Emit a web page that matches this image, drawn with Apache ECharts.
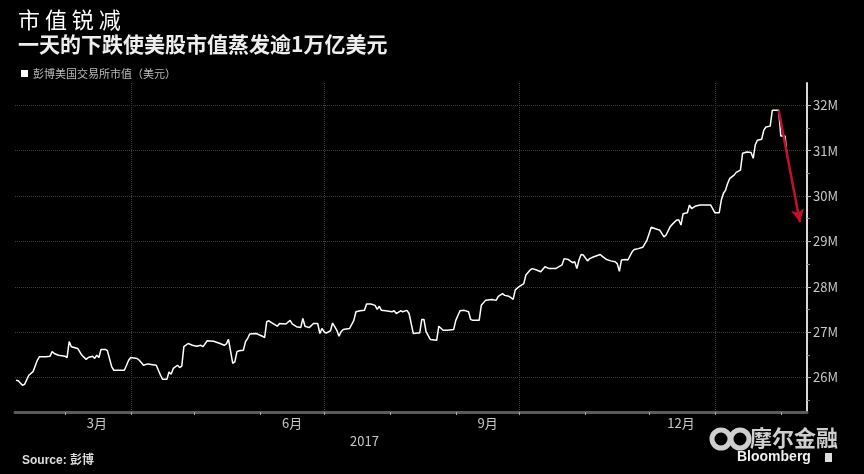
<!DOCTYPE html>
<html>
<head>
<meta charset="utf-8">
<script src="https://cdn.jsdelivr.net/npm/echarts@6/dist/echarts.min.js"></script>
<style>html,body{margin:0;padding:0;background:#000;}#c{width:864px;height:474px;}</style>
</head>
<body>
<div id="c"></div>
<script>
const seriesName = '彭博美国交易所市值（美元）';
const dates = ['2017-02-06','2017-02-07','2017-02-09','2017-02-10','2017-02-12','2017-02-14','2017-02-16','2017-02-17','2017-02-20','2017-02-22','2017-02-23','2017-02-24','2017-02-26','2017-03-01','2017-03-02','2017-03-03','2017-03-04','2017-03-07','2017-03-09','2017-03-11','2017-03-12','2017-03-14','2017-03-15','2017-03-16','2017-03-17','2017-03-18','2017-03-20','2017-03-21','2017-03-23','2017-03-24','2017-03-29','2017-03-31','2017-04-01','2017-04-04','2017-04-05','2017-04-07','2017-04-09','2017-04-13','2017-04-15','2017-04-16','2017-04-18','2017-04-19','2017-04-20','2017-04-21','2017-04-23','2017-04-24','2017-04-25','2017-04-26','2017-04-28','2017-04-30','2017-05-02','2017-05-04','2017-05-05','2017-05-07','2017-05-10','2017-05-13','2017-05-15','2017-05-16','2017-05-17','2017-05-19','2017-05-20','2017-05-21','2017-05-22','2017-05-24','2017-05-25','2017-05-26','2017-05-27','2017-05-30','2017-06-02','2017-06-03','2017-06-04','2017-06-05','2017-06-07','2017-06-09','2017-06-10','2017-06-13','2017-06-15','2017-06-16','2017-06-18','2017-06-20','2017-06-21','2017-06-22','2017-06-24','2017-06-26','2017-06-28','2017-06-29','2017-06-30','2017-07-01','2017-07-02','2017-07-04','2017-07-05','2017-07-06','2017-07-07','2017-07-08','2017-07-09','2017-07-10','2017-07-13','2017-07-15','2017-07-16','2017-07-18','2017-07-20','2017-07-21','2017-07-23','2017-07-25','2017-07-26','2017-07-27','2017-07-28','2017-07-30','2017-08-02','2017-08-03','2017-08-04','2017-08-06','2017-08-07','2017-08-09','2017-08-10','2017-08-12','2017-08-14','2017-08-15','2017-08-16','2017-08-17','2017-08-18','2017-08-20','2017-08-23','2017-08-24','2017-08-26','2017-08-28','2017-08-31','2017-09-01','2017-09-03','2017-09-05','2017-09-07','2017-09-08','2017-09-09','2017-09-12','2017-09-13','2017-09-15','2017-09-18','2017-09-20','2017-09-21','2017-09-23','2017-09-24','2017-09-26','2017-09-27','2017-09-28','2017-09-29','2017-10-01','2017-10-03','2017-10-04','2017-10-06','2017-10-07','2017-10-09','2017-10-11','2017-10-13','2017-10-15','2017-10-18','2017-10-21','2017-10-22','2017-10-24','2017-10-26','2017-10-27','2017-10-28','2017-10-29','2017-10-30','2017-10-31','2017-11-02','2017-11-03','2017-11-05','2017-11-08','2017-11-09','2017-11-11','2017-11-13','2017-11-15','2017-11-16','2017-11-17','2017-11-18','2017-11-20','2017-11-21','2017-11-23','2017-11-24','2017-11-26','2017-11-28','2017-11-30','2017-12-01','2017-12-02','2017-12-05','2017-12-06','2017-12-08','2017-12-09','2017-12-11','2017-12-12','2017-12-14','2017-12-15','2017-12-16','2017-12-17','2017-12-19','2017-12-20','2017-12-21','2017-12-23','2017-12-25','2017-12-27','2017-12-30','2018-01-01','2018-01-03','2018-01-04','2018-01-05','2018-01-06','2018-01-07','2018-01-08','2018-01-10','2018-01-11','2018-01-13','2018-01-14','2018-01-16','2018-01-18','2018-01-19','2018-01-20','2018-01-21','2018-01-23','2018-01-24','2018-01-25','2018-01-27','2018-01-28','2018-01-31','2018-02-01','2018-02-03','2018-02-04'];
const values = [25.94,25.93,25.83,25.85,26.05,26.13,26.38,26.46,26.46,26.47,26.57,26.53,26.49,26.47,26.44,26.79,26.68,26.64,26.49,26.40,26.44,26.47,26.42,26.49,26.44,26.62,26.62,26.59,26.24,26.16,26.16,26.38,26.44,26.42,26.38,26.27,26.30,26.27,26.05,25.96,25.96,26.12,26.07,26.20,26.27,26.22,26.25,26.68,26.75,26.71,26.69,26.71,26.68,26.81,26.80,26.75,26.71,26.74,26.84,26.31,26.35,26.57,26.59,26.60,26.79,26.86,26.96,26.97,26.91,26.88,27.23,27.25,27.19,27.13,27.19,27.18,27.26,27.18,27.12,27.10,27.30,27.13,27.10,27.19,27.19,26.97,27.08,27.01,26.98,27.03,27.20,27.12,27.04,26.91,27.01,27.06,27.08,27.26,27.45,27.47,27.48,27.62,27.62,27.59,27.50,27.57,27.48,27.47,27.45,27.47,27.41,27.47,27.45,27.48,27.41,26.97,26.98,26.98,27.28,27.28,27.01,26.84,26.82,27.13,27.04,27.04,27.06,27.26,27.47,27.48,27.45,27.28,27.26,27.26,27.59,27.70,27.72,27.70,27.79,27.85,27.81,27.79,27.76,27.72,27.93,28.01,28.07,28.26,28.37,28.40,28.37,28.33,28.44,28.40,28.40,28.48,28.62,28.60,28.53,28.55,28.40,28.59,28.71,28.70,28.57,28.62,28.66,28.71,28.67,28.60,28.57,28.55,28.51,28.34,28.59,28.60,28.59,28.77,28.82,28.84,28.87,29.03,29.17,29.31,29.26,29.25,29.10,29.14,29.33,29.38,29.47,29.47,29.36,29.61,29.63,29.80,29.72,29.78,29.80,29.80,29.80,29.63,29.63,29.91,30.06,30.13,30.28,30.39,30.46,30.52,30.57,30.94,30.97,30.96,30.83,31.13,31.23,31.25,31.45,31.52,31.54,31.89,31.89,31.32,31.32,30.86];
const monthTickDates = ['2017-03-01','2017-04-01','2017-05-01','2017-06-01','2017-07-01','2017-08-01','2017-09-01','2017-10-01','2017-11-01','2017-12-01','2018-01-01','2018-02-01'];
const monthLabelDates = ['2017-03-16','2017-06-16','2017-09-16','2017-12-16'];
const quarterGridDates = ['2017-04-01','2017-07-01','2017-10-01','2018-01-01'];
const yearLabelDate = ['2017-07-20'];
const yearLabel = '2017';
const yLabelValues = [26,27,28,29,30,31,32];
const yMinorTickValues = [25.5,26.5,27.5,28.5,29.5,30.5,31.5];
const arrowFrom = ['2018-01-31', 31.89];
const arrowTo = ['2018-02-10', 29.42];

// dates -> day numbers since 2017-01-01 (UTC) for a linear value axis
const EPOCH = Date.UTC(2017, 0, 1);
const DAY = 86400000;
const D = s => { const p = s.split('-').map(Number); return (Date.UTC(p[0], p[1] - 1, p[2]) - EPOCH) / DAY; };
const monthOf = v => new Date(EPOCH + v * DAY).getUTCMonth() + 1;
const xMin = D('2017-02-05') + 0.5;
const xMax = D('2018-02-13') + 0.33;
const yMin = 25.24, yMax = 32.49;
const FONT = '"Noto Sans CJK SC", "Noto Sans", sans-serif';

const chart = echarts.init(document.getElementById('c'), null, {renderer: 'canvas'});
const option = {
  backgroundColor: '#000',
  animation: false,
  textStyle: {fontFamily: FONT},
  title: [
    {text: '市 值 锐 减', left: 13, top: 4, textStyle: {color: '#fff', fontSize: 22, fontWeight: 'normal', fontFamily: FONT}},
    {text: '一天的下跌使美股市值蒸发逾1万亿美元', left: 13, top: 29, textStyle: {color: '#eee', fontSize: 21, fontWeight: 'bold', fontFamily: FONT}},
    {text: 'Source: 彭博', left: 17, top: 450, textStyle: {color: '#ddd', fontSize: 12, fontWeight: 'bold', fontFamily: '"Liberation Sans", "Noto Sans CJK SC", sans-serif'}}
  ],
  legend: {
    data: [seriesName], left: 16, top: 63, icon: 'rect', itemWidth: 7, itemHeight: 7,
    textStyle: {color: '#bbb', fontSize: 11, fontFamily: FONT}
  },
  grid: {left: 15, right: 57, top: 83, bottom: 62},
  xAxis: [
    {
      type: 'value', min: xMin, max: xMax, position: 'bottom', scale: true,
      axisLine: {show: true, lineStyle: {color: '#5a5a5a', width: 3}},
      axisTick: {show: true, customValues: monthTickDates.map(D), length: 3, lineStyle: {color: '#aaa', width: 1}},
      axisLabel: {show: true, customValues: monthLabelDates.map(D), color: '#c8c8c8', fontSize: 13, margin: 5,
        formatter: v => monthOf(v) + '月'},
      splitLine: {show: false}
    },
    {
      type: 'value', min: xMin, max: xMax, position: 'bottom', scale: true,
      axisLine: {show: false},
      axisTick: {show: false, customValues: quarterGridDates.map(D)},
      axisLabel: {show: true, customValues: yearLabelDate.map(D), color: '#c8c8c8', fontSize: 13, margin: 23,
        formatter: () => yearLabel},
      splitLine: {show: true, lineStyle: {color: '#3c3c3c', type: 'dotted', width: 1}}
    }
  ],
  yAxis: [
    {
      type: 'value', min: yMin, max: yMax, position: 'right', scale: true,
      axisLine: {show: true, lineStyle: {color: '#d8d8d8', width: 2}},
      axisTick: {show: true, customValues: yLabelValues, length: 4, lineStyle: {color: '#bbb'}},
      axisLabel: {show: true, customValues: yLabelValues, color: '#c8c8c8', fontSize: 13, margin: 6,
        formatter: v => Math.round(v) + 'M'},
      splitLine: {show: true, lineStyle: {color: '#3c3c3c', type: 'dotted', width: 1}}
    },
    {
      type: 'value', min: yMin, max: yMax, position: 'right', scale: true,
      axisLine: {show: false},
      axisTick: {show: true, customValues: yMinorTickValues, length: 3, lineStyle: {color: '#888'}},
      axisLabel: {show: false},
      splitLine: {show: false}
    }
  ],
  series: [{
    name: seriesName, type: 'line', xAxisIndex: 0, yAxisIndex: 0,
    data: dates.map((d, i) => [D(d), values[i]]),
    showSymbol: false, symbol: 'none',
    lineStyle: {color: '#fff', width: 1.5},
    itemStyle: {color: '#fff'},
    z: 3,
    markLine: {
      silent: true, symbol: ['none', 'arrow'], symbolSize: [10, 13],
      label: {show: false},
      lineStyle: {color: '#c0102c', width: 2.5, type: 'solid'},
      data: [[{coord: [D(arrowFrom[0]), arrowFrom[1]]}, {coord: [D(arrowTo[0]), arrowTo[1]]}]]
    }
  }],
  graphic: [
    {type: 'circle', shape: {cx: 721, cy: 439, r: 9}, style: {fill: 'none', stroke: '#cfcfcf', lineWidth: 5}},
    {type: 'circle', shape: {cx: 740, cy: 439, r: 9}, style: {fill: 'none', stroke: '#cfcfcf', lineWidth: 5}},
    {type: 'text', left: 750, top: 427, style: {text: '摩尔金融', fill: '#cfcfcf', font: 'bold 22px "Noto Sans CJK SC"'}},
    {type: 'text', left: 737, top: 450, style: {text: 'Bloomberg', fill: '#eee', font: 'bold 14px "Liberation Sans"'}},
    {type: 'rect', shape: {x: 825, y: 453, width: 7, height: 9}, style: {fill: '#ddd'}}
  ]
};
chart.setOption(option);
</script>
</body>
</html>
